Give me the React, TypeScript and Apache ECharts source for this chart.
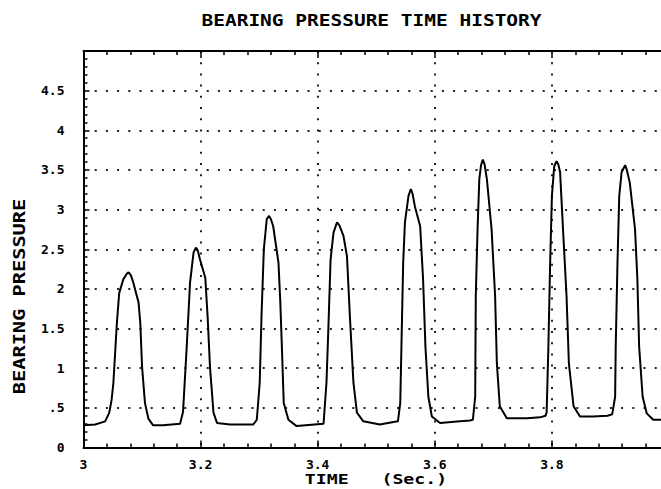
import React, { useEffect, useRef } from "react";
import * as echarts from "echarts";

const titleText = "BEARING PRESSURE TIME HISTORY";
const yName = "BEARING PRESSURE";
const xName = "TIME   (Sec.)";

const xTickValues = [3, 3.2, 3.4, 3.6, 3.8];
const xTickLabels = ["3", "3.2", "3.4", "3.6", "3.8"];
const yTickValues = [0, 0.5, 1, 1.5, 2, 2.5, 3, 3.5, 4, 4.5];
const yTickLabels = ["0", ".5", "1", "1.5", "2", "2.5", "3", "3.5", "4", "4.5"];

const timeValues = [
  3.0, 3.02, 3.037, 3.044, 3.048, 3.051, 3.057, 3.061, 3.068, 3.074, 3.077, 3.081, 3.085, 3.094,
  3.097, 3.1, 3.105, 3.111, 3.119, 3.136, 3.165, 3.17, 3.176, 3.182, 3.188, 3.192, 3.195, 3.199,
  3.208, 3.212, 3.216, 3.222, 3.228, 3.25, 3.29, 3.296, 3.301, 3.304, 3.308, 3.313, 3.317, 3.32,
  3.324, 3.333, 3.336, 3.339, 3.342, 3.35, 3.364, 3.41, 3.415, 3.418, 3.422, 3.427, 3.433, 3.437,
  3.444, 3.45, 3.455, 3.461, 3.467, 3.478, 3.506, 3.52, 3.537, 3.541, 3.543, 3.546, 3.549, 3.555,
  3.559, 3.562, 3.566, 3.575, 3.58, 3.584, 3.589, 3.595, 3.609, 3.643, 3.66, 3.665, 3.669, 3.67,
  3.673, 3.676, 3.679, 3.682, 3.685, 3.689, 3.697, 3.703, 3.706, 3.711, 3.723, 3.757, 3.78, 3.789,
  3.791, 3.794, 3.797, 3.8, 3.804, 3.808, 3.811, 3.814, 3.819, 3.825, 3.829, 3.837, 3.848, 3.87,
  3.895, 3.903, 3.908, 3.909, 3.912, 3.915, 3.919, 3.925, 3.928, 3.933, 3.942, 3.946, 3.949, 3.955,
  3.962, 3.973, 3.985, 3.998,
];

const pressureValues = [
  0.28, 0.29, 0.33, 0.44, 0.6, 0.81, 1.57, 1.95, 2.12, 2.19, 2.21, 2.17, 2.08, 1.83,
  1.57, 1.02, 0.56, 0.36, 0.28, 0.28, 0.3, 0.45, 1.23, 2.08, 2.46, 2.52, 2.49, 2.37,
  2.14, 1.65, 1.02, 0.44, 0.31, 0.29, 0.29, 0.35, 0.82, 1.65, 2.5, 2.88, 2.92, 2.88,
  2.79, 2.33, 1.86, 1.23, 0.56, 0.35, 0.27, 0.3, 0.82, 1.45, 2.37, 2.71, 2.84, 2.8,
  2.67, 2.41, 1.65, 0.82, 0.44, 0.33, 0.29, 0.31, 0.33, 0.56, 1.27, 2.33, 2.84, 3.17,
  3.26, 3.2, 3.04, 2.79, 2.12, 1.27, 0.64, 0.39, 0.31, 0.33, 0.34, 0.35, 0.64, 1.91,
  2.75, 3.38, 3.56, 3.63, 3.57, 3.38, 2.75, 1.91, 1.06, 0.52, 0.37, 0.37, 0.38, 0.4,
  0.44, 1.27, 2.33, 3.17, 3.55, 3.61, 3.57, 3.47, 2.75, 1.91, 1.06, 0.52, 0.39, 0.39,
  0.4, 0.42, 0.64, 1.27, 2.33, 3.17, 3.47, 3.56, 3.5, 3.34, 2.75, 2.12, 1.27, 0.64,
  0.43, 0.35, 0.35, 0.35,
];

const FONT = "'DejaVu Sans Mono', monospace";

function labelFor(values: number[], labels: string[], v: number): string {
  for (let i = 0; i < values.length; i++) {
    if (Math.abs(values[i] - v) < 1e-6) return labels[i];
  }
  return "";
}

export default function App() {
  const ref = useRef<HTMLDivElement>(null);

  useEffect(() => {
    if (!ref.current) return;
    const chart = echarts.init(ref.current, undefined, { renderer: "svg" });
    const dotted = { color: "#222", width: 2, type: [2, 9.2] as number[] };
    const axisLineStyle = { color: "#000", width: 2 };
    chart.setOption({
      animation: false,
      backgroundColor: "#fff",
      grid: { left: 83.5, top: 51, width: 585.5, height: 396.5 },
      xAxis: [
        {
          type: "value",
          position: "bottom",
          min: 3,
          max: 4,
          interval: 0.2,
          axisLine: { show: true, lineStyle: axisLineStyle },
          axisTick: { show: true, inside: true, length: 7, lineStyle: { color: "#000", width: 1.5 } },
          minorTick: { show: true, splitNumber: 5, length: 4, lineStyle: { color: "#000", width: 1.5 } },
          splitLine: { show: true, lineStyle: dotted },
          axisLabel: {
            margin: 10,
            color: "#000",
            fontFamily: FONT,
            fontSize: 13,
            fontWeight: "bold",
            formatter: (v: number) => labelFor(xTickValues, xTickLabels, v),
          },
        },
        {
          type: "value",
          position: "top",
          min: 3,
          max: 4,
          interval: 0.2,
          axisLine: { show: true, lineStyle: axisLineStyle },
          axisTick: { show: true, inside: true, length: 7, lineStyle: { color: "#000", width: 1.5 } },
          minorTick: { show: true, splitNumber: 5, length: 4, lineStyle: { color: "#000", width: 1.5 } },
          splitLine: { show: false },
          axisLabel: { show: false },
        },
      ],
      yAxis: {
        type: "value",
        min: 0,
        max: 5,
        interval: 0.5,
        axisLine: { show: true, lineStyle: axisLineStyle },
        axisTick: { show: true, inside: true, length: 6, lineStyle: { color: "#000", width: 1.5 } },
        minorTick: { show: true, splitNumber: 5, length: 4, lineStyle: { color: "#000", width: 1.5 } },
        splitLine: { show: true, lineStyle: dotted },
        axisLabel: {
          margin: 19,
          color: "#000",
          fontFamily: FONT,
          fontSize: 13,
          fontWeight: "bold",
          formatter: (v: number) => labelFor(yTickValues, yTickLabels, v),
        },
      },
      series: [
        {
          type: "line",
          xAxisIndex: 0,
          data: timeValues.map((t, i) => [t, pressureValues[i]]),
          showSymbol: false,
          lineStyle: { color: "#000", width: 2 },
          silent: true,
        },
      ],
      graphic: [
        {
          type: "text",
          x: 371.5,
          y: 21,
          scaleX: 1.3,
          style: {
            text: titleText,
            font: `bold 15px ${FONT}`,
            fill: "#000",
            align: "center",
            verticalAlign: "middle",
            textAlign: "center",
            textVerticalAlign: "middle",
          },
        },
        {
          type: "text",
          x: 19,
          y: 296.5,
          rotation: Math.PI / 2,
          scaleX: 1.27,
          style: {
            text: yName,
            font: `bold 16px ${FONT}`,
            fill: "#000",
            align: "center",
            verticalAlign: "middle",
            textAlign: "center",
            textVerticalAlign: "middle",
          },
        },
        {
          type: "text",
          x: 376,
          y: 479,
          scaleX: 1.3,
          style: {
            text: xName,
            font: `bold 14px ${FONT}`,
            fill: "#000",
            align: "center",
            verticalAlign: "middle",
            textAlign: "center",
            textVerticalAlign: "middle",
          },
        },
      ],
    });
    return () => chart.dispose();
  }, []);

  return (
    <div
      ref={ref}
      style={{ position: "fixed", left: 0, top: 0, width: 680, height: 489, background: "#fff" }}
    />
  );
}
